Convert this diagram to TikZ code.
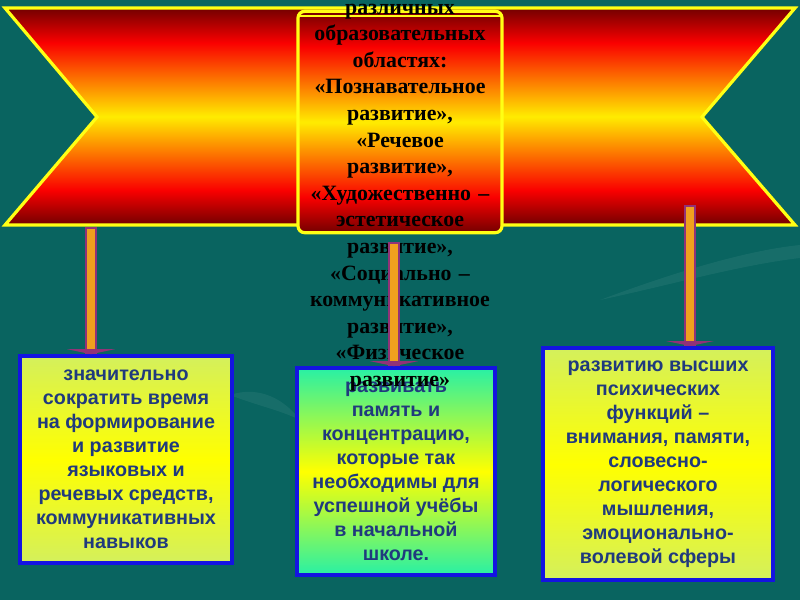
\documentclass[tikz,border=0pt]{standalone}
\usepackage{fontspec}
\setmainfont{Liberation Serif}
\newfontfamily\boxfont{Liberation Sans}
\usetikzlibrary{calc}
\definecolor{bg}{RGB}{9,100,96}
\definecolor{dred}{RGB}{115,0,0}
\definecolor{rred}{RGB}{250,0,0}
\definecolor{ryel}{RGB}{255,236,0}
\definecolor{bordyel}{RGB}{255,255,20}
\definecolor{lime}{RGB}{212,240,92}
\definecolor{aqua}{RGB}{40,240,165}
\definecolor{boxblue}{RGB}{20,20,225}
\definecolor{navy}{RGB}{32,58,125}
\definecolor{barorange}{RGB}{240,160,30}
\definecolor{barpurple}{RGB}{145,50,120}
\pgfdeclareverticalshading{ribbonshade}{100bp}{color(0bp)=(dred); color(25bp)=(dred); color(33bp)=(rred); color(50bp)=(ryel); color(67bp)=(rred); color(75bp)=(dred); color(100bp)=(dred)}
\pgfdeclareverticalshading{limeshade}{100bp}{color(0bp)=(lime); color(25bp)=(lime); color(50bp)=(yellow); color(75bp)=(lime); color(100bp)=(lime)}
\pgfdeclareverticalshading{aquashade}{100bp}{color(0bp)=(aqua); color(25bp)=(aqua); color(50bp)=(yellow); color(75bp)=(aqua); color(100bp)=(aqua)}
\tikzset{
  ribbon/.style={draw=bordyel, line width=2.4pt, line join=miter, shading=ribbonshade},
  scroll/.style={draw=bordyel, line width=2.4pt, rounded corners=5pt, shading=ribbonshade,
    minimum width=153pt, minimum height=166pt, inner sep=0pt},
  ctext/.style={font=\bfseries\fontsize{16.4}{19.95}\selectfont, text=black, align=center,
    text width=200pt, inner sep=0pt},
  infobox/.style={draw=boxblue, line width=3pt, align=center, text=navy, inner sep=0pt,
    font=\boxfont\bfseries\fontsize{14.8}{18}\selectfont},
  barouter/.style={draw=barpurple, line width=9pt},
  barinner/.style={draw=barorange, line width=5.5pt},
  barhead/.style={fill=barpurple},
}
\newcommand\connbar[2]{%
  \draw[barouter] (#1) -- (#2);
  \draw[barinner] ($(#1)+(0,1.5)$) -- ($(#2)+(0,-1.5)$);
  \fill[barhead] ($(#2)+(-24,-5)$) -- ($(#2)+(24,-5)$) -- (#2) -- cycle;}
\begin{document}
\begin{tikzpicture}[x=0.75pt,y=-0.75pt]
\useasboundingbox (0,0) rectangle (800,600);
\clip (0,0) rectangle (800,600);
\fill[bg] (0,0) rectangle (800,600);
% faint background swooshes
\fill[white, opacity=0.06] (230,395) .. controls (260,385) and (285,400) .. (300,420) .. controls (280,410) and (255,405) .. (230,395) -- cycle;
\fill[white, opacity=0.06] (600,300) .. controls (680,270) and (750,250) .. (800,245) -- (800,258) .. controls (740,265) and (670,285) .. (600,300) -- cycle;
% ribbon
\path[ribbon] (5,8) -- (795,8) -- (702,117) -- (795,225) -- (5,225) -- (97,117) -- cycle;
% information boxes
\node[infobox, shading=limeshade, minimum width=159pt, minimum height=155pt] (lbox) at (126,459.5)
  {значительно\\сократить время\\на формирование\\и развитие\\языковых и\\речевых средств,\\коммуникативных\\навыков};
\node[infobox, shading=aquashade, minimum width=148.5pt, minimum height=155pt] (mbox) at (396,471.5)
  {развивать\\память и\\концентрацию,\\которые так\\необходимы для\\успешной учёбы\\в начальной\\школе.};
\node[infobox, shading=limeshade, minimum width=172.5pt, minimum height=174pt] (rbox) at (658,464)
  {развитию высших\\психических\\функций –\\внимания, памяти,\\словесно-\\логического\\мышления,\\эмоционально-\\волевой сферы};
% central scroll
\node[scroll] (cbox) at (400,122) {};
\draw[bordyel, line width=1.5pt] ($(cbox.north west)+(3,6)$) -- ($(cbox.north east)+(-3,6)$);
\node[ctext, anchor=base] (ct) at (400,14)
  {различных\\образовательных\\областях:\\ «Познавательное\\развитие»,\\«Речевое\\развитие»,\\«Художественно –\\эстетическое\\развитие»,\\«Социально –\\коммуникативное\\развитие»,\\«Физическое\\развитие»};
% connectors
\coordinate (t1) at (91,227);
\coordinate (t2) at (394,242);
\coordinate (t3) at (690,205);
\coordinate (b1) at (t1 |- lbox.north);
\coordinate (b2) at (t2 |- mbox.north);
\coordinate (b3) at (t3 |- rbox.north);
\connbar{t1}{b1}
\connbar{t2}{b2}
\connbar{t3}{b3}
\end{tikzpicture}
\end{document}
